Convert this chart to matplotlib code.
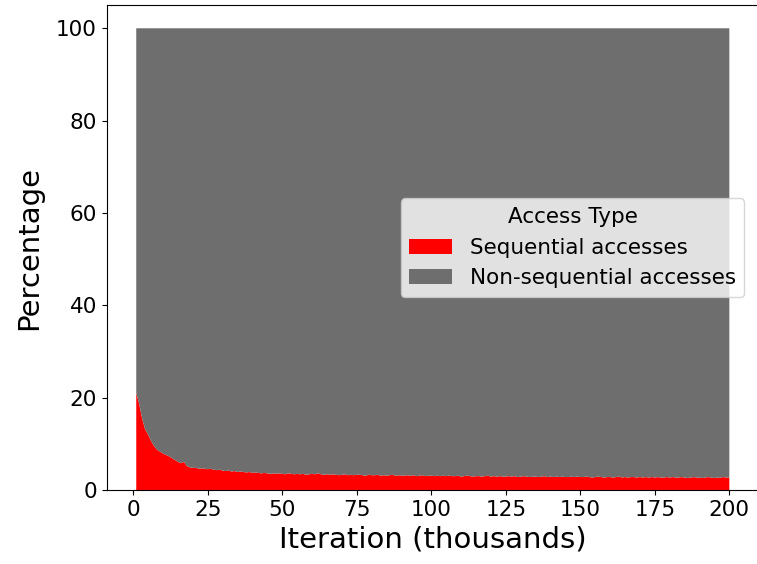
# Stacked area chart: sequential vs non-sequential accesses
import matplotlib.pyplot as plt

# Iteration in thousands
iterations = list(range(1, 201))

# Percentage of sequential accesses
sequential = [
    21.0, 18.6, 15.4, 13.1, 12.0, 10.6, 9.5, 8.7, 8.3, 7.9,
    7.6, 7.3, 6.9, 6.5, 6.1, 5.8, 6.1, 5.2, 4.9, 4.8,
    4.8, 4.6, 4.7, 4.6, 4.5, 4.6, 4.4, 4.3, 4.4, 4.2,
    4.1, 4.2, 4.0, 4.1, 3.9, 4.0, 3.9, 3.8, 3.9, 3.7,
    3.8, 3.7, 3.6, 3.7, 3.6, 3.5, 3.6, 3.5, 3.6, 3.5,
    3.4, 3.6, 3.5, 3.4, 3.5, 3.4, 3.5, 3.3, 3.4, 3.5,
    3.4, 3.6, 3.4, 3.3, 3.4, 3.3, 3.4, 3.3, 3.2, 3.3,
    3.4, 3.2, 3.3, 3.2, 3.3, 3.3, 3.2, 3.1, 3.3, 3.2,
    3.2, 3.3, 3.1, 3.2, 3.1, 3.2, 3.3, 3.1, 3.2, 3.1,
    3.1, 3.2, 3.1, 3.2, 3.0, 3.1, 3.2, 3.0, 3.1, 3.1,
    3.0, 3.1, 3.0, 3.1, 3.0, 3.1, 3.0, 3.0, 3.1, 2.9,
    3.0, 3.1, 3.0, 2.9, 3.0, 3.0, 2.9, 3.0, 3.1, 2.9,
    3.0, 2.9, 3.0, 2.9, 2.9, 3.0, 2.9, 3.0, 2.8, 2.9,
    3.0, 2.9, 2.8, 2.9, 2.9, 2.8, 2.9, 3.0, 2.8, 2.9,
    2.8, 2.9, 2.8, 2.9, 2.8, 2.8, 2.9, 2.8, 2.9, 2.8,
    2.8, 2.9, 2.8, 2.7, 2.8, 2.9, 2.8, 2.7, 2.8, 2.8,
    2.7, 2.8, 2.9, 2.7, 2.8, 2.7, 2.8, 2.8, 2.7, 2.8,
    2.7, 2.8, 2.7, 2.8, 2.7, 2.8, 2.7, 2.7, 2.8, 2.7,
    2.8, 2.7, 2.7, 2.8, 2.7, 2.6, 2.7, 2.8, 2.7, 2.7,
    2.6, 2.7, 2.8, 2.7, 2.6, 2.7, 2.7, 2.8, 2.7, 2.7,
]

# Everything else is non-sequential
non_sequential = [100 - v for v in sequential]

labels = ["Sequential accesses", "Non-sequential accesses"]
colors = ["#ff0000", "#6e6e6e"]

fig = plt.figure(figsize=(7.57, 5.64), dpi=100)
# axes box runs a bit past the right edge, like the cropped original
ax = fig.add_axes([106.6 / 757, 74 / 564, 652.4 / 757, 484.8 / 564])

ax.stackplot(iterations, sequential, non_sequential, labels=labels, colors=colors)

ax.set_xticks([0, 25, 50, 75, 100, 125, 150, 175, 200])
ax.set_yticks([0, 20, 40, 60, 80, 100])
ax.tick_params(labelsize=15.5)

ax.set_xlabel("Iteration (thousands)", fontsize=21)
ax.set_ylabel("Percentage", fontsize=21, labelpad=9)

ax.legend(title="Access Type", loc="center right", fontsize=15.5, title_fontsize=15.5,
          bbox_to_anchor=(0.994, 0.5))

fig.savefig("out.png", dpi=100)
